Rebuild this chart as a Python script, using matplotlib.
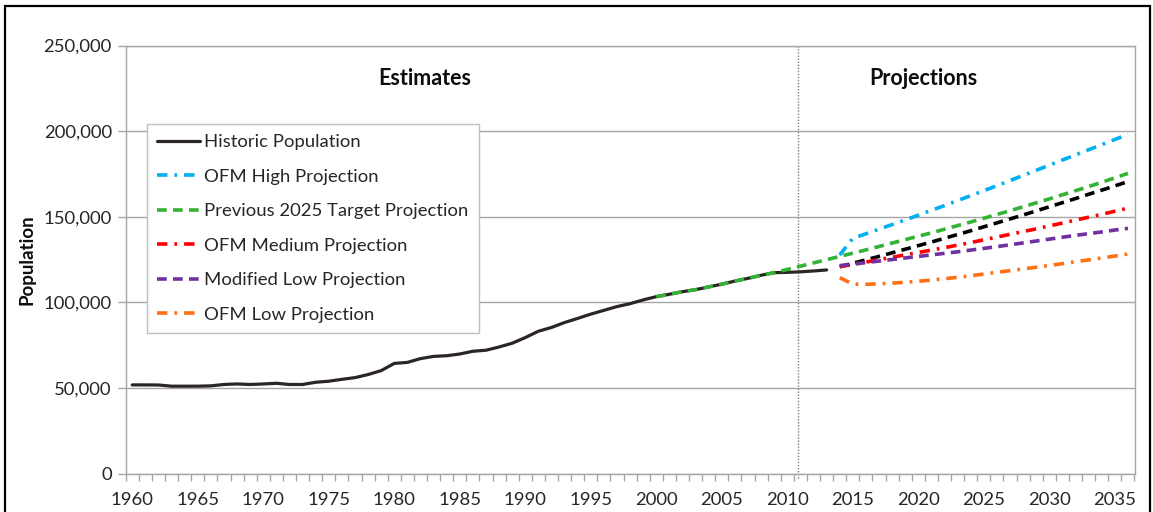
import matplotlib
matplotlib.use("Agg")
import matplotlib.pyplot as plt
from matplotlib.ticker import FuncFormatter, MultipleLocator, FixedLocator
from matplotlib.patches import Rectangle

plt.rcParams['font.family'] = ['Lato', 'DejaVu Sans']
plt.rcParams['lines.scale_dashes'] = False

# ---------------- data ----------------
hist_years = list(range(1960, 2014))
hist_pop = [51750, 51750, 51700, 51000, 51000, 51000, 51200, 52000, 52300, 52000,
            52300, 52700, 52000, 52000, 53300, 53900, 55000, 56000, 57800, 60100,
            64300, 64900, 67100, 68400, 68800, 69800, 71400, 72000, 73900, 76100,
            79400, 83100, 85300, 88200, 90600, 93100, 95300, 97500, 99200, 101400,
            103300, 104700, 106200, 107400, 109000, 110600, 112400, 114000, 115800, 117300,
            117500, 117800, 118300, 118900]

target_years = list(range(2000, 2037))
target_pop = [103300, 104700, 106200, 107400, 109000, 110600, 112400, 114000, 115800, 117300,
              119200, 121100, 123000, 124900, 126800, 128700, 130600, 132600, 134600, 136600,
              138600, 140600, 142700, 144800, 146900, 149100, 151300, 153500, 155800, 158100,
              160400, 162800, 165200, 167600, 170100, 172700, 175300]

proj_years = list(range(2014, 2037))
high_pop = [127600, 137400, 140000, 142700, 145400, 148100, 150900, 153700, 156500, 159400,
            162300, 165200, 168100, 171100, 174100, 177100, 180100, 183100, 186100, 189100,
            192100, 195100, 198100]
black_pop = [120800, 122800, 124800, 126800, 128900, 131000, 133100, 135200, 137400, 139600,
             141800, 144100, 146400, 148700, 151000, 153400, 155800, 158200, 160600, 163100,
             165500, 168000, 170500]
medium_pop = [120800, 122100, 123500, 124900, 126300, 127700, 129100, 130500, 131900, 133400,
              134900, 136500, 138100, 139700, 141300, 142900, 144600, 146300, 148000, 149700,
              151400, 153200, 155000]
modlow_pop = [121400, 122300, 123200, 124100, 125000, 125900, 126800, 127700, 128600, 129500,
              130500, 131500, 132500, 133600, 134700, 135800, 136900, 138000, 139100, 140100,
              141100, 142200, 143200]
low_pop = [114400, 110600, 110500, 110800, 111200, 111700, 112300, 113000, 113800, 114600,
           115500, 116500, 117500, 118500, 119500, 120500, 121500, 122600, 123700, 124800,
           125900, 127000, 128200]

labels = ["Historic Population", "OFM High Projection", "Previous 2025 Target Projection",
          "OFM Medium Projection", "Modified Low Projection", "OFM Low Projection"]
year_labels = list(range(1960, 2036, 5))
divider_year = 2010.84

# ---------------- figure ----------------
W, H = 1153, 512
fig = plt.figure(figsize=(W / 100, H / 100), dpi=100)
ax = fig.add_axes([125.7 / W, 1 - 473.5 / H, (1134.5 - 125.7) / W, (473.5 - 45.5) / H])

grid_c = '#a6a6a6'
ax.set_xlim(1959.5, 2036.5)
ax.set_ylim(0, 250000)
ax.yaxis.set_major_locator(MultipleLocator(50000))
ax.yaxis.set_major_formatter(FuncFormatter(lambda v, p: f"{int(v):,}"))
ax.grid(axis='y', color=grid_c, lw=1)
ax.set_axisbelow(True)

ax.xaxis.set_major_locator(FixedLocator(year_labels))
ax.xaxis.set_minor_locator(FixedLocator([y + 0.5 for y in range(1959, 2037)]))
ax.tick_params(axis='x', which='major', length=0, pad=13, labelsize=13.3, labelcolor='#262626')
ax.tick_params(axis='x', which='minor', length=5, color=grid_c, width=1)
ax.tick_params(axis='y', length=6, color=grid_c, width=1, pad=4, labelsize=13.3, labelcolor='#262626')
for s in ax.spines.values():
    s.set_color(grid_c)
    s.set_linewidth(1)

# divider
ax.axvline(divider_year, ymin=-0.01, ymax=1, color='#7f7f7f', lw=1, ls=(0, (1, 1.2)), clip_on=False)

lw = 2.6
dash = (0, (7, 4.5))
dashdot = (0, (7.5, 5, 2, 5))

h_hist, = ax.plot(hist_years, hist_pop, color='#2b2623', lw=2.3, solid_capstyle='round')
h_black, = ax.plot(proj_years, black_pop, color='#000000', lw=lw, ls=dash)
h_high, = ax.plot(proj_years, high_pop, color='#00b0f0', lw=lw, ls=dashdot)
h_target, = ax.plot(target_years, target_pop, color='#34b233', lw=lw, ls=dash)
h_med, = ax.plot(proj_years, medium_pop, color='#ff0000', lw=lw, ls=dashdot)
h_modlow, = ax.plot(proj_years, modlow_pop, color='#7030a0', lw=lw, ls=dash)
h_low, = ax.plot(proj_years, low_pop, color='#ff7014', lw=lw, ls=dashdot)

leg = ax.legend([h_hist, h_high, h_target, h_med, h_modlow, h_low], labels,
                loc='upper left', bbox_to_anchor=(0.0211, 0.8166),
                fontsize=13.3, frameon=True, fancybox=False, edgecolor='#bfbfbf',
                handlelength=2.3, handletextpad=0.25, labelspacing=1.0,
                borderpad=0.55, borderaxespad=0, framealpha=1)
leg.get_frame().set_linewidth(1)
for t in leg.get_texts():
    t.set_color('#262626')

ax.text(1982.35, 231000, "Estimates", ha='center', va='center', fontsize=15.5, fontweight='bold', color='#0d0d0d')
ax.text(2020.4, 231000, "Projections", ha='center', va='center', fontsize=15.5, fontweight='bold', color='#0d0d0d')
ax.set_ylabel("Population", fontsize=13.5, fontweight='bold', color='#0d0d0d', labelpad=6)

# outer frame of the chart area
fig.patches.append(Rectangle((4.5 / W, -0.1), (1150 - 4.5) / W, 1.1 - 5.5 / H,
                             transform=fig.transFigure, fill=False, edgecolor='#000000', lw=1.6))

fig.savefig("out.png", dpi=100)
